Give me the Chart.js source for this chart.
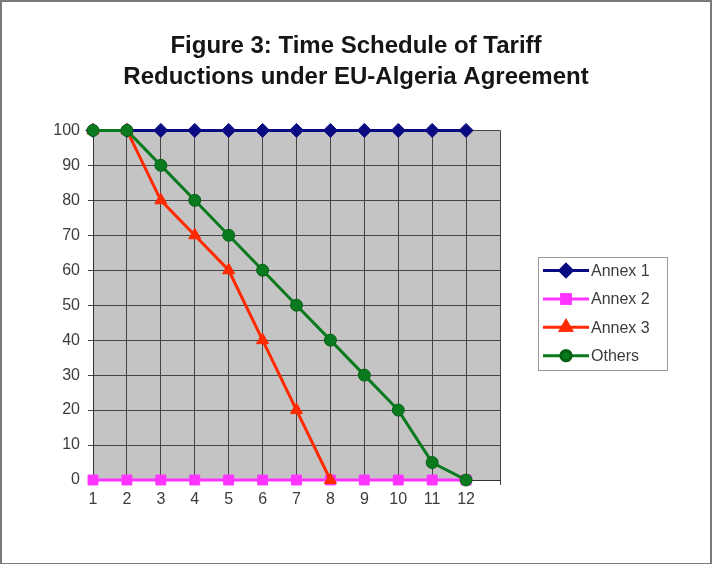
<!DOCTYPE html>
<html>
<head>
<meta charset="utf-8">
<script src="https://cdn.jsdelivr.net/npm/chart.js@4/dist/chart.umd.min.js"></script>
<style>
  html, body { margin: 0; padding: 0; background: #fff; }
  #wrap { position: relative; width: 712px; height: 564px; }
  #frame { position: absolute; left: 0; top: 0; width: 712px; height: 564px; box-sizing: border-box;
           border: 2px solid #7a7a7a; border-bottom-width: 1px; pointer-events: none; }
</style>
</head>
<body>
<div id="wrap">
  <canvas id="chart" width="712" height="564"></canvas>
  <div id="frame"></div>
</div>
<script>
// x categories (years of the schedule)
const years = [1, 2, 3, 4, 5, 6, 7, 8, 9, 10, 11, 12];
// tariff level, % of base
const annex1 = [100, 100, 100, 100, 100, 100, 100, 100, 100, 100, 100, 100];
const annex2 = [0, 0, 0, 0, 0, 0, 0, 0, 0, 0, 0, 0];
const annex3 = [100, 100, 80, 70, 60, 40, 20, 0, null, null, null, null];
const others = [100, 100, 90, 80, 70, 60, 50, 40, 30, 20, 5, 0];
const seriesNames = ['Annex 1', 'Annex 2', 'Annex 3', 'Others'];
const titleLines = ['Figure 3: Time Schedule of Tariff', 'Reductions under EU-Algeria Agreement'];

const FONT = "Arial, 'Liberation Sans', sans-serif";
const COL = { a1: '#0a0a82', a2: '#ff33ff', a3: '#ff2a00', oth: '#0a7a1e', othEdge: '#056014',
              plot: '#c4c4c4', grid: '#444', tick: '#3c3c3c' };

// gray plot area behind the grid
const plotBg = {
  id: 'plotBg',
  beforeDraw(chart) {
    const { ctx, chartArea: a } = chart;
    ctx.save();
    ctx.fillStyle = COL.plot;
    ctx.fillRect(a.left, a.top, a.right - a.left, a.bottom - a.top);
    ctx.restore();
  },
};

// Excel-style boxed legend: short line with the marker in the middle
const boxLegend = {
  id: 'boxLegend',
  afterDraw(chart) {
    const { ctx } = chart;
    const box = { x: 538, y: 257, w: 129, h: 113 };
    ctx.save();
    ctx.fillStyle = '#fff';
    ctx.fillRect(box.x, box.y, box.w, box.h);
    ctx.strokeStyle = '#9a9a9a'; ctx.lineWidth = 1;
    ctx.strokeRect(box.x + 0.5, box.y + 0.5, box.w, box.h);
    ctx.font = '16px ' + FONT;
    ctx.textBaseline = 'middle';
    chart.data.datasets.forEach((ds, i) => {
      const y = box.y + 13.5 + i * 28.4;
      ctx.strokeStyle = ds.borderColor; ctx.lineWidth = ds.borderWidth;
      ctx.beginPath(); ctx.moveTo(box.x + 5, y); ctx.lineTo(box.x + 51, y); ctx.stroke();
      Chart.helpers.drawPoint(ctx, {
        pointStyle: ds.pointStyle, radius: ds.pointRadius - 1, rotation: 0,
        borderWidth: 1,
      }, box.x + 28, y);
      ctx.fillStyle = ds.pointBackgroundColor; ctx.strokeStyle = ds.pointBorderColor;
      ctx.fill(); ctx.stroke();
      ctx.fillStyle = COL.tick;
      ctx.fillText(ds.label, box.x + 53, y + 1);
    });
    ctx.restore();
  },
};

function series(label, data, color, edge, style, radius, order) {
  return {
    label, data, order,
    borderColor: color, borderWidth: 3,
    pointStyle: style, pointRadius: radius, pointHoverRadius: radius,
    pointBackgroundColor: color, pointBorderColor: edge, pointBorderWidth: 1,
    tension: 0, spanGaps: false, clip: false,
  };
}

new Chart(document.getElementById('chart'), {
  type: 'line',
  data: {
    labels: years,
    datasets: [
      series(seriesNames[0], annex1, COL.a1, COL.a1, 'rectRot', 7, 4),
      series(seriesNames[1], annex2, COL.a2, COL.a2, 'rect', 7, 3),
      series(seriesNames[2], annex3, COL.a3, COL.a3, 'triangle', 7, 2),
      series(seriesNames[3], others, COL.oth, COL.othEdge, 'circle', 6, 1),
    ],
  },
  options: {
    responsive: false, animation: false,
    layout: { padding: { left: 0, right: 0, top: 0, bottom: 44 } },
    plugins: {
      legend: { display: false },
      tooltip: { enabled: false },
      title: {
        display: true, text: titleLines, color: '#151515',
        font: { family: FONT, size: 24, weight: 'bold', lineHeight: 1.3 },
        padding: { top: 31, bottom: 37 },
      },
    },
    scales: {
      x: {
        type: 'linear', min: 1, max: 13,
        afterFit: s => { s.height = 40; },
        grid: { color: COL.grid, lineWidth: 1, tickLength: 5 },
        border: { color: '#333', width: 1 },
        ticks: { stepSize: 1, color: COL.tick, padding: 5, font: { family: FONT, size: 16 },
                 callback: v => (v <= years[years.length - 1] ? v : '') },
      },
      y: {
        min: 0, max: 100,
        afterFit: s => { s.width = 93; },
        grid: { color: COL.grid, lineWidth: 1, tickLength: 5 },
        border: { color: '#333', width: 1 },
        ticks: { stepSize: 10, color: COL.tick, padding: 8, font: { family: FONT, size: 16 } },
      },
      // empty right-hand axis that reserves room for the legend, so the title stays centred on the page
      room: {
        type: 'linear', position: 'right', min: 0, max: 1,
        afterFit: s => { s.width = 212; },
        grid: { display: false }, border: { display: false }, ticks: { display: false },
      },
    },
  },
  plugins: [plotBg, boxLegend],
});
</script>
</body>
</html>
